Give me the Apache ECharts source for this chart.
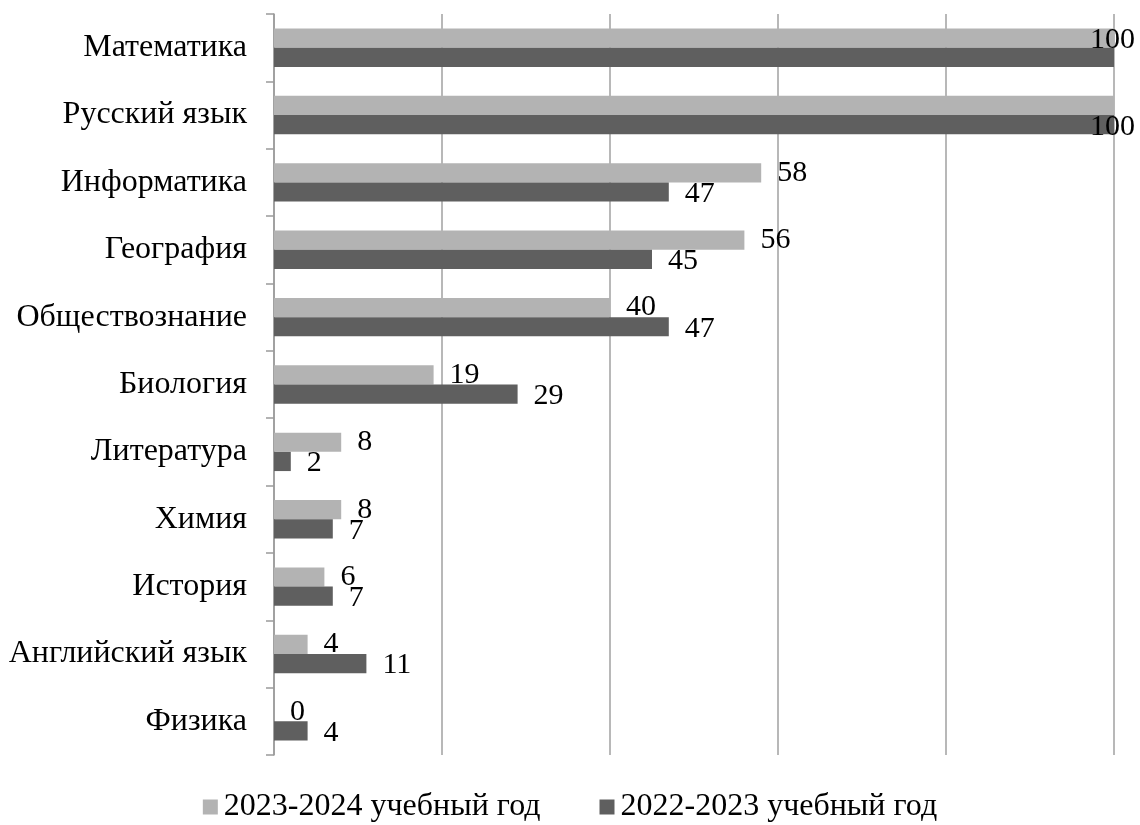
<!DOCTYPE html>
<html>
<head>
<meta charset="utf-8">
<script src="https://cdn.jsdelivr.net/npm/echarts@6/dist/echarts.min.js"></script>
<style>
html,body{margin:0;padding:0;background:#fff;}
#chart{width:1140px;height:825px;}
</style>
</head>
<body>
<div id="chart"></div>
<script>
const categories = ['Математика','Русский язык','Информатика','География','Обществознание','Биология','Литература','Химия','История','Английский язык','Физика'];
const year2324 = [100,100,58,56,40,19,8,8,6,4,0];
const year2223 = [100,100,47,45,47,29,2,7,7,11,4];
const seriesNames = ['2023-2024 учебный год','2022-2023 учебный год'];
// value labels that the reference does not show (overlapping labels hidden)
const hidden2324 = ['Русский язык'];
const hidden2223 = ['Математика'];

const FONT = '"Liberation Serif", "Times New Roman", serif';
const chart = echarts.init(document.getElementById('chart'));

function toData(arr, hidden, dy){
  return arr.map((v, i) => {
    const item = {value: v};
    if (hidden.indexOf(categories[i]) >= 0) item.label = {show: false};
    else if (v >= 100) item.label = {offset: [-40, dy]};
    return item;
  });
}

chart.setOption({
  animation: false,
  backgroundColor: '#fff',
  grid: {left: 274, right: 26, top: 14, bottom: 70, containLabel: false},
  legend: {
    data: seriesNames,
    top: 791,
    left: 'center',
    padding: 0,
    icon: 'rect',
    itemWidth: 15,
    itemHeight: 15,
    itemGap: 59,
    textStyle: {fontFamily: FONT, fontSize: 32, color: '#000', padding: [0,0,0,1]}
  },
  xAxis: {
    type: 'value',
    min: 0, max: 100, interval: 20,
    axisLabel: {show: false},
    axisLine: {show: false},
    axisTick: {show: false},
    splitLine: {show: true, lineStyle: {color: '#a0a0a0', width: 1.5}}
  },
  yAxis: {
    type: 'category',
    data: categories,
    inverse: true,
    axisLine: {show: true, lineStyle: {color: '#9a9a9a', width: 1.5}},
    axisTick: {show: true, length: 8, lineStyle: {color: '#9a9a9a', width: 1.5}},
    axisLabel: {fontFamily: FONT, fontSize: 32, color: '#000', margin: 27}
  },
  series: [
    {
      name: seriesNames[0], type: 'bar', data: toData(year2324, hidden2324, 2),
      barGap: '0%', barCategoryGap: '43%',
      itemStyle: {color: '#b3b3b3'},
      label: {show: true, position: 'right', distance: 16, fontFamily: FONT, fontSize: 30, color: '#000'}
    },
    {
      name: seriesNames[1], type: 'bar', data: toData(year2223, hidden2223, 2),
      barGap: '0%', barCategoryGap: '43%',
      itemStyle: {color: '#5f5f5f'},
      label: {show: true, position: 'right', distance: 16, offset: [0, 2], fontFamily: FONT, fontSize: 30, color: '#000'}
    }
  ]
});
</script>
</body>
</html>
